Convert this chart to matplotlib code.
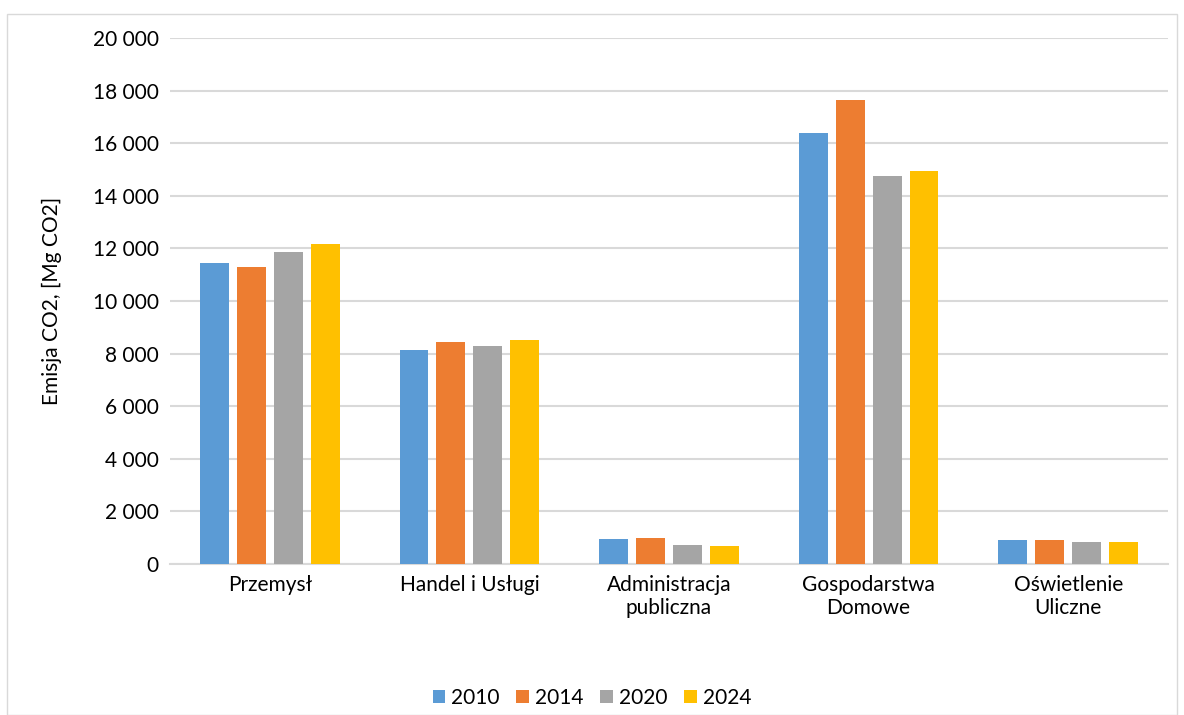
import numpy as np
import matplotlib.pyplot as plt
from matplotlib.patches import Rectangle
from matplotlib.ticker import FuncFormatter

plt.rcParams['font.family'] = ['Lato', 'DejaVu Sans']

categories = ['Przemysł', 'Handel i Usługi', 'Administracja\npubliczna',
              'Gospodarstwa\nDomowe', 'Oświetlenie\nUliczne']
years = ['2010', '2014', '2020', '2024']
v2010 = [11460, 8150, 960, 16370, 920]
v2014 = [11300, 8450, 1000, 17660, 920]
v2020 = [11880, 8270, 730, 14760, 850]
v2024 = [12150, 8530, 700, 14930, 850]
colors = ['#5b9bd5', '#ed7d31', '#a5a5a5', '#ffc000']

fig = plt.figure(figsize=(11.84, 7.15), dpi=100)
fig.patches.append(Rectangle((7 / 1184, 0), 1170 / 1184, 1 - 14 / 715, transform=fig.transFigure,
                             fill=False, edgecolor='#d9d9d9', linewidth=1))
ax = fig.add_axes([170 / 1184, 1 - 564 / 715, 998 / 1184, 526 / 715])

x = np.arange(len(categories))
width = 0.145
step = 0.185
series = [v2010, v2014, v2020, v2024]
for i, (vals, c, lab) in enumerate(zip(series, colors, years)):
    ax.bar(x + (i - 1.5) * step, vals, width, color=c, label=lab, zorder=3)

ax.set_xlim(-0.5, 4.5)
ax.set_ylim(0, 20000)
ax.set_yticks(range(0, 20001, 2000))
ax.yaxis.set_major_formatter(FuncFormatter(lambda v, p: f'{int(v):,}'.replace(',', ' ')))
ax.set_xticks(x)
ax.set_xticklabels(categories, fontsize=15, linespacing=1.15)
ax.tick_params(axis='y', labelsize=15, length=0, pad=8)
ax.tick_params(axis='x', length=0, pad=8)
ax.grid(axis='y', color='#d9d9d9', linewidth=1.5, zorder=0)
for s in ['top', 'right', 'left']:
    ax.spines[s].set_visible(False)
ax.spines['bottom'].set_color('#d9d9d9')
ax.spines['bottom'].set_linewidth(1.5)
ax.set_ylabel('Emisja CO2, [Mg CO2]', fontsize=15, labelpad=22)

fig.legend(loc='center', bbox_to_anchor=(0.5, 1 - 698 / 715), ncol=4, frameon=False,
           fontsize=15, handlelength=0.6, handleheight=0.6, handletextpad=0.3, columnspacing=0.8)

fig.savefig('out.png', dpi=100)
